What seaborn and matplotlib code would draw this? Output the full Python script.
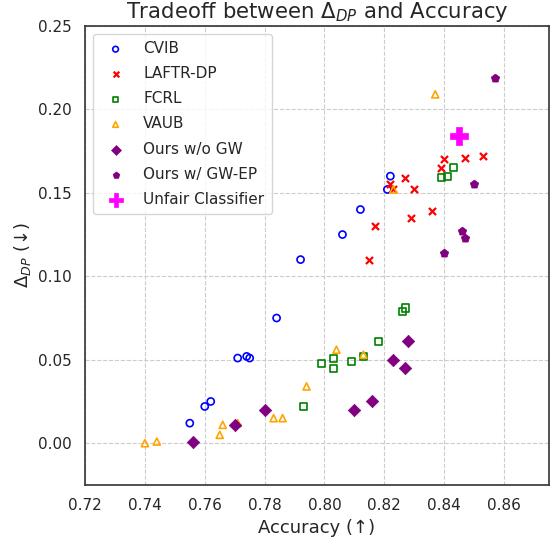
import matplotlib
matplotlib.use("Agg")
import matplotlib.pyplot as plt
import seaborn as sns
import pandas as pd

cvib_x = [0.755, 0.760, 0.762, 0.771, 0.774, 0.775, 0.784, 0.792, 0.806, 0.812, 0.821, 0.822]
cvib_y = [0.012, 0.022, 0.025, 0.051, 0.052, 0.051, 0.075, 0.110, 0.125, 0.140, 0.152, 0.160]

laftr_x = [0.815, 0.817, 0.822, 0.823, 0.827, 0.829, 0.830, 0.836, 0.839, 0.840, 0.847, 0.853]
laftr_y = [0.110, 0.130, 0.155, 0.152, 0.159, 0.135, 0.152, 0.139, 0.165, 0.170, 0.171, 0.172]

fcrl_x = [0.793, 0.799, 0.803, 0.803, 0.809, 0.813, 0.818, 0.826, 0.827, 0.839, 0.841, 0.843]
fcrl_y = [0.022, 0.048, 0.051, 0.045, 0.049, 0.052, 0.061, 0.079, 0.081, 0.159, 0.160, 0.165]

vaub_x = [0.740, 0.744, 0.765, 0.766, 0.771, 0.783, 0.786, 0.794, 0.804, 0.813, 0.823, 0.837]
vaub_y = [0.000, 0.001, 0.005, 0.011, 0.012, 0.015, 0.015, 0.034, 0.056, 0.053, 0.152, 0.209]

ours_nogw_x = [0.756, 0.770, 0.780, 0.810, 0.816, 0.823, 0.827, 0.828]
ours_nogw_y = [0.001, 0.011, 0.020, 0.020, 0.025, 0.050, 0.045, 0.061]

ours_gw_x = [0.840, 0.846, 0.847, 0.850, 0.857]
ours_gw_y = [0.114, 0.127, 0.123, 0.155, 0.219]

unfair_x = [0.845]
unfair_y = [0.184]

sns.set_theme(style="white", context="notebook")
plt.rcParams['font.family'] = ['DejaVu Sans']

fig, ax = plt.subplots(figsize=(5.52, 5.40), dpi=100)
fig.subplots_adjust(left=0.154, right=0.9946, top=0.952, bottom=0.102)

ms = 26
sns.scatterplot(x=cvib_x, y=cvib_y, ax=ax, marker='o', s=ms, facecolors='none',
                edgecolor='blue', linewidth=1.2, label='CVIB')
sns.scatterplot(x=laftr_x, y=laftr_y, ax=ax, marker='x', s=ms, color='red',
                linewidth=1.6, label='LAFTR-DP')
sns.scatterplot(x=fcrl_x, y=fcrl_y, ax=ax, marker='s', s=ms, facecolors='none',
                edgecolor='green', linewidth=1.2, label='FCRL')
sns.scatterplot(x=vaub_x, y=vaub_y, ax=ax, marker='^', s=ms, facecolors='none',
                edgecolor='orange', linewidth=1.2, label='VAUB')
sns.scatterplot(x=ours_nogw_x, y=ours_nogw_y, ax=ax, marker='D', s=40, color='purple',
                edgecolor='purple', linewidth=0.5, label='Ours w/o GW')
sns.scatterplot(x=ours_gw_x, y=ours_gw_y, ax=ax, marker='p', s=40, color='purple',
                edgecolor='purple', linewidth=0.5, label='Ours w/ GW-EP')
sns.scatterplot(x=unfair_x, y=unfair_y, ax=ax, marker='P', s=170, color='magenta',
                edgecolor='magenta', linewidth=0.5, label='Unfair Classifier')

ax.set_xlim(0.72, 0.875)
ax.set_ylim(-0.025, 0.25)
ax.set_xticks([0.72, 0.74, 0.76, 0.78, 0.80, 0.82, 0.84, 0.86])
ax.set_yticks([0.0, 0.05, 0.10, 0.15, 0.20, 0.25])
ax.grid(True, linestyle='--', color='#cccccc', linewidth=0.8)
for s in ax.spines.values():
    s.set_color('#333333')
    s.set_linewidth(1.2)

ax.set_xlabel('Accuracy (↑)', fontsize=13)
ax.set_ylabel(r'$\Delta_{DP}$ (↓)', fontsize=13)
ax.set_title(r'Tradeoff between $\Delta_{DP}$ and Accuracy', fontsize=15.3)
ax.tick_params(labelsize=11)
ax.legend(loc='upper left', fontsize=11, frameon=True, borderpad=0.5,
          labelspacing=0.66, markerscale=0.8)

fig.savefig('out.png', dpi=100)
